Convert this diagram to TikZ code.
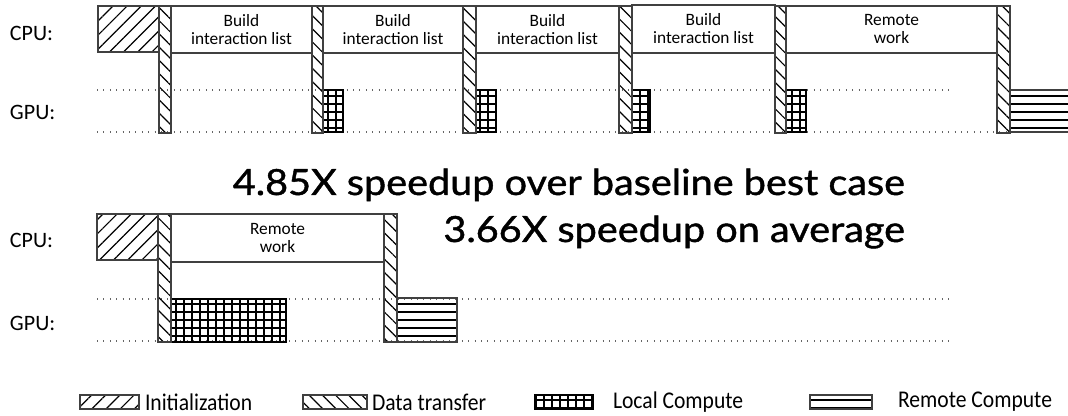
\documentclass[tikz,border=0pt]{standalone}
\usepackage{fontspec}
\setmainfont{Carlito}
\newfontfamily\bigf[FakeStretch=1.1,FakeBold=1.2]{Lato}
\newfontfamily\legf[FakeStretch=0.9]{Carlito}
\usetikzlibrary{patterns.meta}
\tikzset{
  every node/.style={inner sep=0pt, outer sep=0pt},
  frame/.style={draw=black!75, line width=0.8pt},
  initp/.style={frame, pattern={Lines[angle=45,distance=7.5pt,line width=0.9pt]}, pattern color=black},
  xferp/.style={frame, pattern={Lines[angle=-45,distance=7pt,line width=0.9pt]}},
  localp/.style={frame, draw=black, line width=1pt, pattern={Hatch[angle=0,distance=6pt,line width=0.9pt]}},
  remotep/.style={frame, pattern={Lines[angle=0,distance=6pt,line width=1pt]}},
  workp/.style={frame, fill=white, align=center, font=\fontsize{13}{13.5}\selectfont},
  lane/.style={draw=black!60, line width=0.8pt, dash pattern=on 0.8pt off 4pt},
  lbl/.style={anchor=west, font=\fontsize{16.5}{18}\selectfont},
  legtext/.style={anchor=west, font=\legf\fontsize{18}{20}\selectfont},
  bigtext/.style={anchor=base east, font=\bigf\fontsize{27}{30}\selectfont},
}
\newcommand\bx[7][]{\node[#1,anchor=north west,minimum width={(#5-#3)*0.75pt},minimum height={(#6-#4)*0.75pt}] (#2) at (#3,#4) {#7};}
\begin{document}
\begin{tikzpicture}[x=0.75pt,y=-0.75pt]
\useasboundingbox (0,0) rectangle (1068,416);
\clip (0,0) rectangle (1068,416);
% ---------- lanes ----------
\coordinate (ta1) at (97,90);  \coordinate (ta2) at (953,90);
\coordinate (tb1) at (97,132); \coordinate (tb2) at (1035,132);
\coordinate (ba1) at (97,299); \coordinate (ba2) at (950,299);
\coordinate (bb1) at (97,341); \coordinate (bb2) at (950,341);
\draw[lane] (ta1) -- (ta2);
\draw[lane] (tb1) -- (tb2);
\draw[lane] (ba1) -- (ba2);
\draw[lane] (bb1) -- (bb2);
% ---------- labels ----------
\node[lbl] (cpu1) at (10,33) {CPU:};
\node[lbl] (gpu1) at (10,112) {GPU:};
\node[lbl] (cpu2) at (10,240) {CPU:};
\node[lbl] (gpu2) at (10,323) {GPU:};
% ---------- top timeline ----------
\bx[initp]{tinit}{98}{6}{159}{52}{}
\bx[workp]{tw1}{171}{6}{312}{53}{Build\\interaction list}
\bx[workp]{tw2}{323}{6}{463}{53}{Build\\interaction list}
\bx[workp]{tw3}{476}{6}{619}{53}{Build\\interaction list}
\bx[workp]{tw4}{632}{5}{775}{53}{Build\\interaction list}
\bx[workp]{tw5}{786}{6}{997}{53}{Remote\\work}
\bx[localp]{tl1}{323}{90}{343}{132}{}
\bx[localp]{tl2}{476}{90}{496}{132}{}
\bx[localp]{tl3}{632}{90}{650}{132}{}
\bx[localp]{tl4}{786}{90}{806}{132}{}
\bx[remotep]{tr1}{1010}{90}{1080}{132}{}
\bx[xferp]{tx1}{159}{6}{171}{133}{}
\bx[xferp]{tx2}{312}{6}{323}{133}{}
\bx[xferp]{tx3}{463}{6}{476}{133}{}
\bx[xferp]{tx4}{619}{6}{632}{133}{}
\bx[xferp]{tx5}{775}{6}{786}{133}{}
\bx[xferp]{tx6}{997}{6}{1010}{133}{}
% ---------- speedup text ----------
\node[bigtext] (s1) at (905,195) {4.85X speedup over baseline best case};
\node[bigtext] (s2) at (905,242) {3.66X speedup on average};
% ---------- bottom timeline ----------
\bx[initp]{binit}{97}{214}{158}{260}{}
\bx[workp]{bw1}{171}{214}{384}{262}{Remote\\work}
\bx[localp]{bl1}{171}{299}{286}{342}{}
\bx[remotep]{br1}{397}{298}{457}{342}{}
\bx[xferp]{bx1}{158}{214}{171}{342}{}
\bx[xferp]{bx2}{384}{214}{397}{342}{}
% ---------- legend ----------
\bx[initp]{g1}{80}{395}{139}{409}{}
\node[legtext] (g1t) at (145,402) {Initialization};
\bx[xferp]{g2}{303}{395}{367}{409}{}
\node[legtext] (g2t) at (372,402) {Data transfer};
\bx[localp]{g3}{535}{395}{593}{409}{}
\node[legtext] (g3t) at (613,402) {Local Compute};
\bx[remotep]{g4}{810}{395}{872}{409}{}
\node[legtext] (g4t) at (898,402) {Remote Compute};
\end{tikzpicture}
\end{document}
